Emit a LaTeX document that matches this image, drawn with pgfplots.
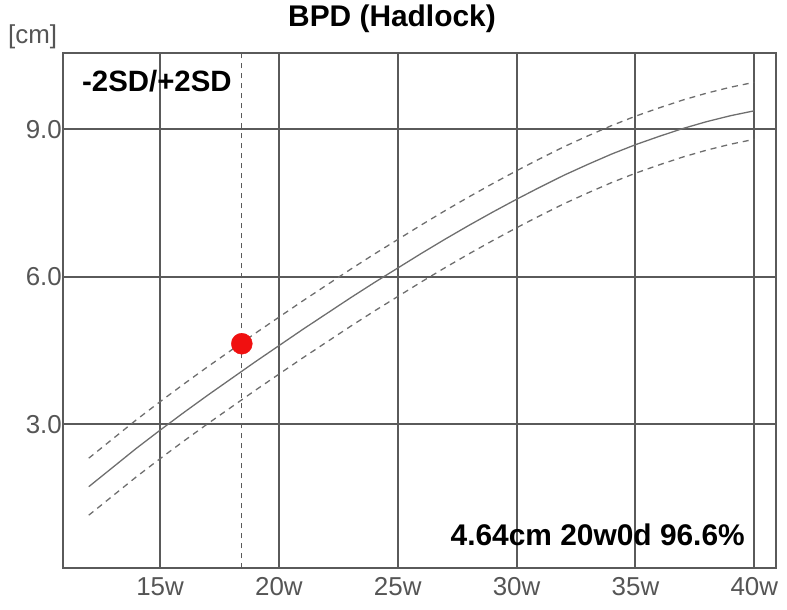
\documentclass[border=0pt]{standalone}
\usepackage{fontspec}
\setmainfont{Liberation Sans}
\usepackage{pgfplots}
\usepackage{pgfplotstable}
\pgfplotsset{compat=1.18}
\definecolor{gridgray}{HTML}{5A5A5A}
\definecolor{curvegray}{HTML}{6E6E6E}
\definecolor{labgray}{HTML}{555555}
\definecolor{dotred}{HTML}{F01010}

% BPD (Hadlock): mean and -2SD/+2SD, cm
\pgfplotstableread{
wk mean up lo
12 1.73 2.31 1.15
13 2.12 2.70 1.54
14 2.51 3.09 1.93
15 2.88 3.46 2.30
16 3.24 3.82 2.66
17 3.59 4.17 3.01
18 3.93 4.51 3.35
19 4.27 4.85 3.69
20 4.60 5.18 4.02
21 4.93 5.51 4.35
22 5.25 5.83 4.67
23 5.57 6.15 4.99
24 5.88 6.46 5.30
25 6.18 6.76 5.60
26 6.48 7.06 5.90
27 6.77 7.35 6.19
28 7.05 7.63 6.47
29 7.32 7.90 6.74
30 7.58 8.16 7.00
31 7.83 8.41 7.25
32 8.07 8.65 7.49
33 8.29 8.87 7.71
34 8.50 9.08 7.92
35 8.69 9.27 8.11
36 8.86 9.44 8.28
37 9.02 9.60 8.44
38 9.16 9.74 8.58
39 9.28 9.86 8.70
40 9.38 9.96 8.80
}\bpd

\begin{document}
\begin{tikzpicture}
\begin{axis}[
  name=ax, scale only axis,
  width=712.4bp, height=515bp,
  xmin=10.93, xmax=40.9, ymin=0.07, ymax=10.55,
  axis line style={gridgray, line width=2bp},
  xtick={15,20,25,30,35,40},
  xticklabels={15w,20w,25w,30w,35w,40w},
  ytick={3,6,9},
  yticklabels={3.0,6.0,9.0},
  major tick length=0,
  grid=major,
  major grid style={gridgray, line width=2bp},
  tick label style={labgray, font=\fontsize{26}{26}\selectfont},
  xticklabel style={yshift=-6bp},
  yticklabel style={xshift=2bp},
  clip=false,
]
% +2SD / mean / -2SD
\addplot[curvegray, line width=1.3bp, dash pattern=on 6bp off 5bp] table[x=wk,y=up]{\bpd};
\addplot[curvegray, line width=1.3bp] table[x=wk,y=mean]{\bpd};
\addplot[curvegray, line width=1.3bp, dash pattern=on 6bp off 5bp] table[x=wk,y=lo]{\bpd};
% current measurement
\addplot[gridgray, line width=1bp, dash pattern=on 5bp off 5bp] coordinates {(18.44,0.07) (18.44,10.55)};
\addplot[only marks, mark=*, mark size=10.5bp, color=dotred] coordinates {(18.44,4.64)};

\node[anchor=base, font=\bfseries\fontsize{30}{30}\selectfont, yshift=26.3bp] at (rel axis cs:0.4614,1) {BPD (Hadlock)};
\node[anchor=east, inner sep=0pt, labgray, font=\fontsize{26}{26}\selectfont, xshift=-6bp, yshift=16.3bp] at (rel axis cs:0,1) {[cm]};
\node[anchor=base west, inner sep=0pt, font=\bfseries\fontsize{29.5}{29.5}\selectfont] at (rel axis cs:0.0262,0.9254) {-2SD/+2SD};
\node[anchor=base east, inner sep=0pt, font=\bfseries\fontsize{30}{30}\selectfont] at (rel axis cs:0.9569,0.0452) {4.64cm 20w0d 96.6\%};
\end{axis}
\pgfresetboundingbox
\path[use as bounding box] ([xshift=-63.3bp,yshift=-41.7bp]ax.south west) rectangle ([xshift=11.3bp,yshift=53.3bp]ax.north east);
\end{tikzpicture}
\end{document}
